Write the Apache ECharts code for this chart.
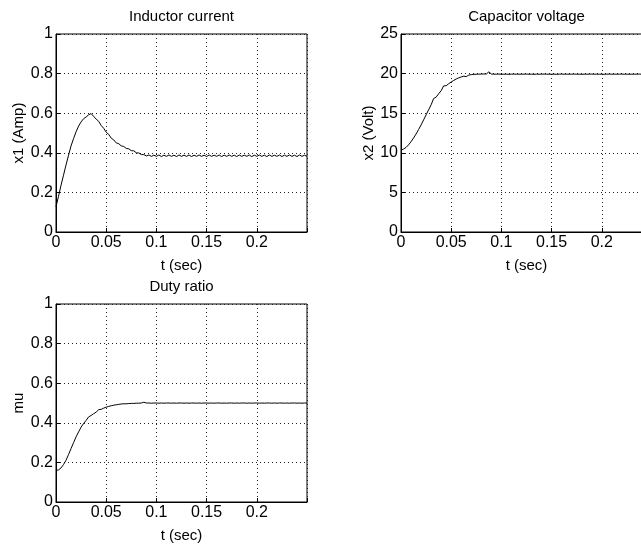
<!DOCTYPE html>
<html>
<head>
<meta charset="utf-8">
<script src="https://cdn.jsdelivr.net/npm/echarts@6/dist/echarts.min.js"></script>
<style>
html,body{margin:0;padding:0;background:#fff;}
#chart{width:641px;height:544px;}
</style>
</head>
<body>
<div id="chart"></div>
<script>
// ---- data ----
const time = [0,0.0025,0.005,0.0075,0.01,0.0125,0.015,0.0175,0.02,0.0225,0.025,0.0275,0.03,0.0325,0.035,0.0375,0.04,0.0425,0.045,0.0475,0.05,0.0525,0.055,0.0575,0.06,0.0625,0.065,0.0675,0.07,0.0725,0.075,0.0775,0.08,0.0825,0.085,0.0875,0.09,0.0925,0.095,0.0975,0.1,0.1025,0.105,0.1075,0.11,0.1125,0.115,0.1175,0.12,0.1225,0.125,0.1275,0.13,0.1325,0.135,0.1375,0.14,0.1425,0.145,0.1475,0.15,0.1525,0.155,0.1575,0.16,0.1625,0.165,0.1675,0.17,0.1725,0.175,0.1775,0.18,0.1825,0.185,0.1875,0.19,0.1925,0.195,0.1975,0.2,0.2025,0.205,0.2075,0.21,0.2125,0.215,0.2175,0.22,0.2225,0.225,0.2275,0.23,0.2325,0.235,0.2375,0.24,0.2425,0.245,0.2475,0.25];

const inductorCurrent = [
0.128,0.180,0.236,0.287,0.339,0.388,0.435,0.472,0.506,0.535,
0.556,0.572,0.581,0.592,0.598,0.584,0.570,0.559,0.538,0.524,
0.504,0.493,0.474,0.465,0.450,0.446,0.435,0.432,0.422,0.420,
0.411,0.410,0.400,0.399,0.391,0.391,0.384,0.389,0.382,
0.388,0.382,0.389,0.381,0.388,0.382,0.389,0.382,0.388,0.381,
0.389,0.382,0.388,0.382,0.389,0.381,0.388,0.382,0.389,0.382,
0.388,0.381,0.389,0.382,0.388,0.382,0.389,0.381,0.388,0.382,
0.389,0.382,0.388,0.381,0.389,0.382,0.388,0.382,0.389,0.381,
0.388,0.382,0.389,0.382,0.388,0.381,0.389,0.382,0.388,0.382,
0.389,0.381,0.388,0.382,0.389,0.382,0.388,0.381,0.389,0.382,
0.388,0.382];

const capacitorVoltage = [
10.34,10.47,10.68,11.00,11.40,11.87,12.37,12.93,13.52,14.15,
14.79,15.43,16.06,16.85,17.03,17.45,17.84,18.45,18.47,18.72,
18.94,19.14,19.32,19.46,19.58,19.67,19.62,19.81,19.87,19.90,
19.92,19.93,19.94,19.95,19.95,20.22,19.95,
19.93,19.92,19.94,19.93,19.92,19.93,19.91,19.93,19.94,19.92,
19.93,19.92,19.93,19.94,19.92,19.93,19.91,19.93,19.92,19.93,
19.94,19.92,19.93,19.92,19.93,19.91,19.93,19.94,19.92,19.93,
19.92,19.93,19.94,19.92,19.93,19.91,19.93,19.92,19.93,19.94,
19.92,19.93,19.92,19.93,19.91,19.93,19.94,19.92,19.93,19.92,
19.93,19.94,19.92,19.93,19.91,19.93,19.92,19.93,19.94,19.92,
19.93,19.92,19.93,19.93];

const dutyRatio = [
0.160,0.162,0.172,0.189,0.211,0.240,0.270,0.300,0.329,0.354,
0.378,0.397,0.412,0.430,0.437,0.446,0.454,0.466,0.468,0.474,
0.479,0.483,0.486,0.489,0.491,0.493,0.495,0.496,0.496,0.497,
0.498,0.498,0.499,0.499,0.500,0.504,0.500,
0.500,0.499,0.500,0.500,0.499,0.500,0.499,0.500,0.500,0.499,
0.500,0.499,0.500,0.500,0.499,0.500,0.499,0.500,0.500,0.499,
0.500,0.499,0.500,0.500,0.499,0.500,0.499,0.500,0.500,0.499,
0.500,0.499,0.500,0.500,0.499,0.500,0.499,0.500,0.500,0.499,
0.500,0.499,0.500,0.500,0.499,0.500,0.499,0.500,0.500,0.499,
0.500,0.499,0.500,0.500,0.499,0.500,0.499,0.500,0.500,0.499,
0.500,0.499,0.500,0.500];

const xTickLabels = ['0','0.05','0.1','0.15','0.2'];
const yTickLabelsUnit = ['0','0.2','0.4','0.6','0.8','1'];
const yTickLabelsVolt = ['0','5','10','15','20','25'];

const titles = ['Inductor current','Capacitor voltage','Duty ratio'];
const yNames = ['x1 (Amp)','x2 (Volt)','mu'];
const xName = 't (sec)';

// ---- chart ----
const FONT = 'Liberation Sans, Arial, Helvetica, sans-serif';
const grids = [
  {left:56, top:34, width:251, height:198},
  {left:401, top:34, width:251, height:198},
  {left:56, top:304, width:251, height:198}
];
const yCfg = [
  {max:1, interval:0.2, labels:yTickLabelsUnit, gap:30},
  {max:25, interval:5, labels:yTickLabelsVolt, gap:24},
  {max:1, interval:0.2, labels:yTickLabelsUnit, gap:30}
];
const seriesVals = [inductorCurrent, capacitorVoltage, dutyRatio];

const split = {show:true, lineStyle:{color:'#222', width:1, type:[1,3]}};
const axLine = {show:true, onZero:false, lineStyle:{color:'#000', width:1}};

const option = {
  animation:false,
  backgroundColor:'#fff',
  textStyle:{fontFamily:FONT},
  title: grids.map((g,i)=>({
    text:titles[i], left:g.left + g.width/2, top:g.top-25, textAlign:'center', padding:0,
    textStyle:{fontSize:15, fontWeight:'normal', color:'#000', fontFamily:FONT}
  })),
  grid: grids.map(g=>Object.assign({show:true, borderColor:'#000', borderWidth:1, backgroundColor:'#fff',
    containLabel:false, outerBoundsMode:'none'}, g)),
  xAxis: grids.map((g,i)=>({
    type:'value', gridIndex:i, min:0, max:0.25, interval:0.05,
    name:xName, nameLocation:'middle', nameGap:26,
    nameTextStyle:{fontSize:15, color:'#000', fontFamily:FONT},
    axisLine:axLine,
    axisTick:{show:true, inside:true, length:4, lineStyle:{color:'#000'}},
    axisLabel:{color:'#000', fontSize:16, margin:3, fontFamily:FONT,
      formatter:v=>{const k=Math.round(v/0.05); return xTickLabels[k]===undefined?'':xTickLabels[k];}},
    splitLine:split
  })),
  yAxis: grids.map((g,i)=>({
    type:'value', gridIndex:i, min:0, max:yCfg[i].max, interval:yCfg[i].interval,
    name:yNames[i], nameLocation:'middle', nameGap:yCfg[i].gap, nameRotate:90,
    nameTextStyle:{fontSize:15, color:'#000', fontFamily:FONT},
    axisLine:axLine,
    axisTick:{show:true, inside:true, length:4, lineStyle:{color:'#000'}},
    axisLabel:{color:'#000', fontSize:16, margin:3, fontFamily:FONT,
      formatter:v=>{const k=Math.round(v/yCfg[i].interval); return yCfg[i].labels[k]||'';}},
    splitLine:split
  })),
  series: seriesVals.map((vals,i)=>({
    type:'line', xAxisIndex:i, yAxisIndex:i, showSymbol:false, symbol:'none',
    lineStyle:{color:'#000', width:1}, z:5,
    data: time.map((t,k)=>[t, vals[k]])
  }))
};

const chart = echarts.init(document.getElementById('chart'), null, {renderer:'canvas'});
chart.setOption(option);
</script>
</body>
</html>
